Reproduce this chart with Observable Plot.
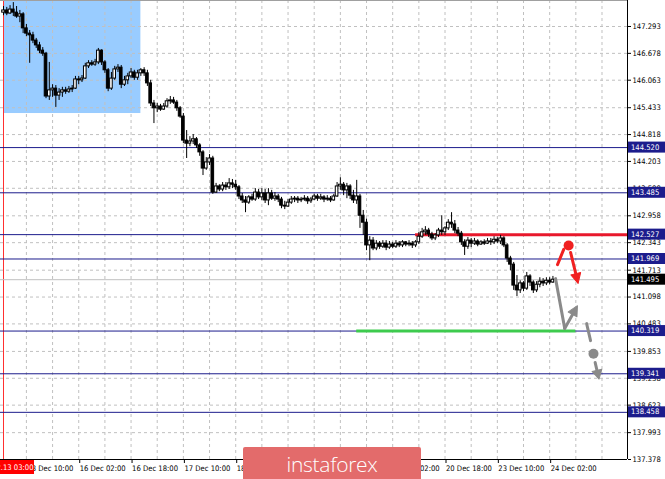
<!DOCTYPE html>
<html><head><meta charset="utf-8">
<script src="https://cdn.jsdelivr.net/npm/d3@7"></script>
<script src="https://cdn.jsdelivr.net/npm/@observablehq/plot@0.6"></script>
<style>
body{margin:0;background:#fff;}
#wrap{position:relative;width:665px;height:479px;overflow:hidden;}
.wm{position:absolute;left:243px;top:447px;width:178px;height:36px;background:#e36b6b;border-radius:2px;color:#fff;font:300 21px "Open Sans",sans-serif;text-align:center;line-height:34px;letter-spacing:-0.3px;}
</style></head><body><div id="wrap"><div class="wm">instaforex</div></div>
<script>
// ---- data: GBP/JPY H1 candles, 13 Dec 03:00 -> 24 Dec 03:00 ----
const open = [147.61,147.66,147.59,147.68,147.61,147.52,147.57,147.25,147.13,147.09,146.97,146.86,146.74,146.67,145.69,145.83,145.87,145.71,145.78,145.83,145.80,145.85,145.87,146.08,146.06,146.10,146.38,146.45,146.42,146.47,146.74,146.47,146.29,145.87,146.10,146.31,146.35,145.96,146.06,146.15,146.24,146.12,146.22,146.29,146.22,145.99,145.53,145.42,145.46,145.39,145.46,145.58,145.60,145.55,145.42,145.23,144.68,144.61,144.66,144.71,144.57,144.41,144.04,144.18,144.27,143.49,143.63,143.56,143.65,143.61,143.70,143.67,143.61,143.40,143.31,143.26,143.38,143.33,143.49,143.38,143.47,143.31,143.47,143.35,143.40,143.33,143.19,143.17,143.26,143.33,143.35,143.31,143.33,143.35,143.29,143.33,143.40,143.35,143.38,143.33,143.35,143.31,143.40,143.63,143.67,143.54,143.63,143.42,143.31,143.40,142.96,142.80,142.28,142.39,142.21,142.32,142.25,142.32,142.23,142.30,142.25,142.32,142.28,142.35,142.30,142.32,142.28,142.35,142.48,142.58,142.62,142.53,142.44,142.51,142.62,142.58,142.67,142.80,142.76,142.62,142.55,142.35,142.25,142.39,142.32,142.37,142.30,142.35,142.32,142.37,142.35,142.41,142.37,142.44,142.28,141.98,141.84,141.36,141.25,141.41,141.29,141.57,141.43,141.25,141.38,141.45,141.41,141.47,141.43];
const high = [147.75,147.73,147.77,147.84,147.75,147.66,147.61,147.34,147.20,147.16,147.02,146.93,146.81,146.70,146.47,145.96,145.94,145.87,145.90,145.90,145.92,145.94,146.15,146.15,146.17,146.45,146.51,146.51,146.54,146.79,146.76,146.51,146.33,146.24,146.38,146.42,146.40,146.15,146.22,146.33,146.29,146.29,146.33,146.35,146.29,146.06,145.60,145.53,145.51,145.53,145.64,145.69,145.67,145.60,145.46,145.30,144.91,144.77,144.82,144.75,144.61,144.45,144.29,144.36,144.32,143.70,143.67,143.72,143.72,143.81,143.79,143.77,143.65,143.47,143.40,143.42,143.45,143.58,143.56,143.58,143.56,143.58,143.54,143.49,143.45,143.38,143.29,143.33,143.40,143.40,143.40,143.38,143.42,143.40,143.38,143.45,143.45,143.45,143.42,143.42,143.40,143.45,143.72,143.83,143.72,143.70,143.67,143.54,143.77,143.45,143.08,142.88,142.48,142.46,142.39,142.37,142.39,142.39,142.37,142.35,142.39,142.37,142.39,142.37,142.39,142.37,142.39,142.58,142.67,142.71,142.67,142.58,142.55,142.67,142.96,142.71,142.87,143.03,142.85,142.69,142.60,142.41,142.46,142.44,142.44,142.41,142.39,142.41,142.44,142.44,142.48,142.46,142.51,142.48,142.32,142.03,141.89,141.59,141.47,141.45,141.66,141.61,141.47,141.45,141.54,141.52,141.54,141.54,141.57];
const low = [147.54,147.54,147.57,147.52,147.48,147.38,147.13,147.06,146.45,146.90,146.79,146.67,146.61,145.64,145.60,145.67,145.44,145.60,145.67,145.74,145.76,145.78,145.85,145.96,146.01,146.08,146.33,146.38,146.38,146.42,146.40,146.22,145.80,145.83,146.06,146.24,145.87,145.92,145.96,146.10,146.06,146.06,146.15,146.15,145.92,145.46,145.07,145.32,145.35,145.37,145.42,145.51,145.51,145.35,145.19,144.61,144.27,144.54,144.59,144.50,144.32,143.88,144.00,144.11,143.45,143.47,143.51,143.51,143.54,143.56,143.58,143.54,143.33,143.24,143.03,143.22,143.29,143.29,143.33,143.31,143.24,143.19,143.31,143.29,143.26,143.12,143.10,143.15,143.22,143.26,143.24,143.26,143.29,143.22,143.24,143.31,143.29,143.31,143.26,143.29,143.26,143.29,143.38,143.54,143.42,143.35,143.33,143.24,143.22,142.67,142.51,142.16,141.93,142.16,142.16,142.19,142.21,142.16,142.19,142.21,142.21,142.23,142.23,142.25,142.25,142.21,142.23,142.30,142.44,142.51,142.46,142.39,142.39,142.46,142.51,142.51,142.62,142.67,142.55,142.48,142.28,142.05,142.19,142.23,142.28,142.25,142.28,142.28,142.30,142.28,142.30,142.32,142.30,142.23,141.89,141.70,141.25,141.11,141.18,141.22,141.25,141.34,141.18,141.20,141.31,141.34,141.36,141.38,141.41];
const close = [147.66,147.59,147.68,147.61,147.52,147.57,147.25,147.13,147.09,146.97,146.86,146.74,146.67,145.69,145.83,145.87,145.71,145.78,145.83,145.80,145.85,145.87,146.08,146.06,146.10,146.38,146.45,146.42,146.47,146.74,146.47,146.29,145.87,146.10,146.31,146.35,145.96,146.06,146.15,146.24,146.12,146.22,146.29,146.22,145.99,145.53,145.42,145.46,145.39,145.46,145.58,145.60,145.55,145.42,145.23,144.68,144.61,144.66,144.71,144.57,144.41,144.04,144.18,144.27,143.49,143.63,143.56,143.65,143.61,143.70,143.67,143.61,143.40,143.31,143.26,143.38,143.33,143.49,143.38,143.47,143.31,143.47,143.35,143.40,143.33,143.19,143.17,143.26,143.33,143.35,143.31,143.33,143.35,143.29,143.33,143.40,143.35,143.38,143.33,143.35,143.31,143.40,143.63,143.67,143.54,143.63,143.42,143.31,143.40,142.96,142.80,142.28,142.39,142.21,142.32,142.25,142.32,142.23,142.30,142.25,142.32,142.28,142.35,142.30,142.32,142.28,142.35,142.48,142.58,142.62,142.53,142.44,142.51,142.62,142.58,142.67,142.80,142.76,142.62,142.55,142.35,142.25,142.39,142.32,142.37,142.30,142.35,142.32,142.37,142.35,142.41,142.37,142.44,142.28,141.98,141.84,141.36,141.25,141.41,141.29,141.57,141.43,141.25,141.38,141.45,141.41,141.47,141.43,141.495];

const tickBars   = [7, 23, 39, 55, 71, 87, 103, 119, 135, 151, 167];
const tickLabels = ["13 Dec 10:00","16 Dec 02:00","16 Dec 18:00","17 Dec 10:00","18 Dec 02:00","18 Dec 18:00","19 Dec 10:00","20 Dec 02:00","20 Dec 18:00","23 Dec 10:00","24 Dec 02:00"];
const priceTicks = [147.293,146.678,146.063,145.433,144.818,144.203,143.588,142.958,142.343,141.713,141.098,140.483,139.853,139.238,138.623,137.993,137.378];
const levels     = [144.520,143.485,142.527,141.969,140.319,139.341,138.458];
const lastPrice  = 141.495;
const cursorBar  = 0;
const cursorLabel = "2019.12.13 03:00";
const zone       = [{bar1: 0, bar2: 42, low: 145.30, high: 148.5}];
const resistance = [{bar1: 126, bar2: 200, price: 142.527}];
const support    = [{bar1: 108, bar2: 175, price: 140.319}];
// forecast arrows (bar index, price)
const redLine    = [[169.4, 141.84], [171.3, 142.19]];
const redDot     = [[172.8, 142.28]];
const redArrow   = [[173.4, 142.12], [175.7, 141.41]];
const grayLine   = [[168.8, 141.52], [171.6, 140.38]];
const grayArrow  = [[171.6, 140.38], [175.5, 140.90]];
const grayDash   = [[178.3, 140.49], [179.5, 140.10]];
const grayDot    = [[180.4, 139.80]];
const grayArrow2 = [[180.9, 139.60], [182.1, 139.22]];

// ---- layout ----
const W = 665, H = 479, mR = 38, mB = 20;
const xDomain = [-0.92, 190.8], yDomain = [137.378, 147.888];
const pxBar = (W - mR) / (xDomain[1] - xDomain[0]);
const pxPrice = (H - mB) / (yDomain[1] - yDomain[0]);

// choose a narrow installed font and size it like the terminal's labels
const ctx2 = document.createElement("canvas").getContext("2d");
function widthIn(font, s) { ctx2.font = font; return ctx2.measureText(s).width; }
let FAM = "Liberation Sans";
for (const f of ["DejaVu Sans Condensed", "Liberation Sans Narrow", "Arial Narrow"]) {
  if (Math.abs(widthIn(`40px "${f}", monospace`, "16 Dec 02:00") - widthIn("40px monospace", "16 Dec 02:00")) > 1) { FAM = f; break; }
}
const FS = Math.max(7.6, Math.min(9.5, 45 * 40 / widthIn(`40px "${FAM}"`, "16 Dec 02:00")));
const FONT = `"${FAM}", sans-serif`;

const bars = close.map((c, i) => ({i, o: open[i], h: high[i], l: low[i], c}));
const labelOf = new Map(tickBars.map((b, k) => [b, tickLabels[k]]));
const gridBars = d3.range(tickBars[0], xDomain[1], 8);

function headOf(seg, len) {
  const [a, b] = seg;
  const dx = (b[0] - a[0]) * pxBar, dy = -(b[1] - a[1]) * pxPrice;
  const n = Math.hypot(dx, dy);
  const base = [b[0] - dx / n * len / pxBar, b[1] + dy / n * len / pxPrice];
  return {tip: b, base, angle: Math.atan2(dx, -dy) * 180 / Math.PI};
}
const tri = {draw(ctx, l, r) { ctx.moveTo(0, -l); ctx.lineTo(r, 0); ctx.lineTo(-r, 0); ctx.closePath(); }};
function arrowMarks(seg, color, len, r) {
  const h = headOf(seg, len);
  return [
    Plot.line([seg[0], h.base], {x: d => d[0], y: d => d[1], stroke: color, strokeWidth: 3}),
    Plot.vector([h], {x: d => d.tip[0], y: d => d.tip[1], rotate: d => d.angle, length: len, r, anchor: "end", shape: tri, fill: color, stroke: color, strokeWidth: 1})
  ];
}

const chart = Plot.plot({
  width: W, height: H, marginLeft: 0, marginRight: mR, marginTop: 0, marginBottom: mB,
  x: {domain: xDomain},
  y: {domain: yDomain},
  style: {background: "white", fontFamily: FONT, fontSize: FS + "px", color: "black", overflow: "visible"},
  marks: [
    Plot.rect(zone, {x1: "bar1", x2: "bar2", y1: "low", y2: "high", fill: "#99ccff", clip: true}),
    Plot.ruleY(priceTicks, {stroke: "#c0c0c0", strokeDasharray: "3,3"}),
    Plot.ruleX(gridBars, {stroke: "#c0c0c0", strokeDasharray: "3,3"}),
    Plot.ruleX([cursorBar], {stroke: "#ff3030"}),
    Plot.ruleY([lastPrice], {stroke: "#c0c0c0"}),
    Plot.ruleY(levels, {stroke: "#1c1c8c"}),
    Plot.ruleY(resistance, {y: "price", x1: "bar1", x2: "bar2", stroke: "#e8182c", strokeWidth: 3, clip: true}),
    Plot.ruleY(support, {y: "price", x1: "bar1", x2: "bar2", stroke: "#3ecb4e", strokeWidth: 3}),
    Plot.ruleX(bars, {x: "i", y1: "l", y2: "h", stroke: "black"}),
    Plot.rect(bars, {x1: d => d.i - 0.4, x2: d => d.i + 0.4, y1: d => Math.min(d.o, d.c), y2: d => Math.max(d.o, d.c), fill: d => d.c >= d.o ? "white" : "black", stroke: "black"}),
    Plot.line(grayLine, {x: d => d[0], y: d => d[1], stroke: "#8a8a8a", strokeWidth: 3}),
    ...arrowMarks(grayArrow, "#8a8a8a", 10, 5),
    Plot.line(grayDash, {x: d => d[0], y: d => d[1], stroke: "#8a8a8a", strokeWidth: 3}),
    Plot.dot(grayDot, {x: d => d[0], y: d => d[1], r: 5, fill: "#8a8a8a"}),
    ...arrowMarks(grayArrow2, "#8a8a8a", 9, 5),
    Plot.line(redLine, {x: d => d[0], y: d => d[1], stroke: "#f02020", strokeWidth: 3}),
    Plot.dot(redDot, {x: d => d[0], y: d => d[1], r: 5, fill: "#f02020"}),
    ...arrowMarks(redArrow, "#f02020", 10, 5),
    Plot.ruleX([xDomain[1]], {stroke: "black"}),
    Plot.ruleY([yDomain[0]], {stroke: "black"}),
    Plot.ruleY([yDomain[1]], {stroke: "#a0a0a0"}),
    Plot.axisY(priceTicks, {anchor: "right", tickFormat: d3.format(".3f"), tickSize: 3, tickPadding: 2, label: null, fontSize: FS}),
    Plot.axisX(tickBars, {anchor: "bottom", tickFormat: d => labelOf.get(d), textAnchor: "start", tickSize: 4, tickPadding: 2, dx: 1, label: null, fontSize: FS})
  ]
});

// price label boxes on the right scale and the cursor time label
const svg = d3.select(chart);
const ys = chart.scale("y"), xs = chart.scale("x");
const boxG = svg.append("g").attr("font-family", FONT).attr("font-size", FS).attr("text-anchor", "start");
const fmt = d3.format(".3f");
for (const [v, col] of [...levels.map(v => [v, "#1c1c8c"]), [lastPrice, "#000"]]) {
  const yy = ys.apply(v);
  boxG.append("rect").attr("x", W - mR + 1).attr("y", yy - 5.5).attr("width", mR - 1).attr("height", 11).attr("fill", col);
  boxG.append("text").attr("x", W - mR + 4).attr("y", yy).attr("dy", "0.35em").attr("fill", "white").text(fmt(v));
}
const cx = xs.apply(cursorBar);
boxG.append("rect").attr("x", cx - 31).attr("y", H - mB + 1).attr("width", 62).attr("height", 14).attr("fill", "#ff0000");
boxG.append("text").attr("x", cx).attr("y", H - mB + 8).attr("dy", "0.35em").attr("text-anchor", "middle").attr("fill", "white").text(cursorLabel);

document.getElementById("wrap").prepend(chart);
</script>
</body></html>
